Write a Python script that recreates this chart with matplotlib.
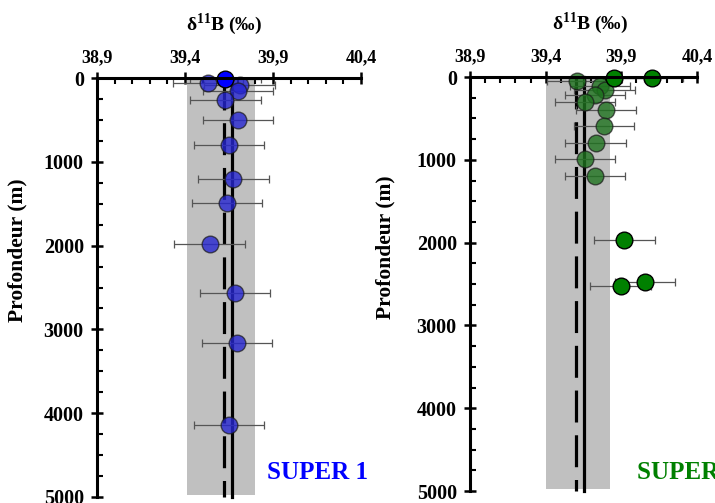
import numpy as np
import matplotlib
matplotlib.use('Agg')
import matplotlib.pyplot as plt
from matplotlib.ticker import FixedLocator, MultipleLocator, FuncFormatter

plt.rcParams['font.family'] = ['Liberation Serif', 'DejaVu Serif']
plt.rcParams['font.weight'] = 'bold'
plt.rcParams['mathtext.fontset'] = 'custom'
plt.rcParams['mathtext.rm'] = 'Liberation Serif:bold'
plt.rcParams['mathtext.bf'] = 'Liberation Serif:bold'

# SUPER 1 : d11B (permil) vs depth (m)
s1_faded_d11b = [39.53, 39.71, 39.70, 39.63, 39.70, 39.65, 39.675, 39.64, 39.54, 39.685, 39.695, 39.65]
s1_faded_depth = [55, 85, 150, 260, 500, 800, 1205, 1495, 1985, 2570, 3160, 4135]
s1_solid_d11b = [39.63]
s1_solid_depth = [10]
s1_err = 0.2
s1_band = (39.41, 39.80)
s1_mean = 39.665
s1_median = 39.62

# SUPER 2
s2_faded_d11b = [39.61, 39.76, 39.79, 39.725, 39.66, 39.80, 39.785, 39.73, 39.66, 39.725]
s2_faded_depth = [48, 110, 155, 215, 300, 400, 590, 795, 995, 1190]
s2_solid_d11b = [39.85, 40.105, 39.92, 40.055, 39.895]
s2_solid_depth = [15, 15, 1970, 2470, 2525]
s2_err = 0.2
s2_band = (39.40, 39.825)
s2_mean = 39.65
s2_median = 39.60

xticks = [38.9, 39.4, 39.9, 40.4]
depth_max = 5000

W, H = 715, 503
fig = plt.figure(figsize=(W / 100, H / 100), dpi=100)


def panel(rect, faded_x, faded_y, solid_x, solid_y, err, band, mean, median,
          color, faded_color, name, name_xy, ylab_x, xlab_x):
    ax = fig.add_axes(rect)
    ax.set_facecolor('none')
    ax.set_xlim(xticks[0], xticks[-1])
    ax.set_ylim(depth_max, 0)

    ax.fill_betweenx([0, 4975], band[0], band[1], color='#c0c0c0', lw=0, zorder=0)
    ax.plot([median, median], [0, depth_max], color='black', lw=2.3,
            dashes=(10, 4), zorder=2, clip_on=False)
    ax.plot([mean, mean], [0, depth_max], color='black', lw=2.3, zorder=2, clip_on=False)

    ax.errorbar(faded_x + solid_x, faded_y + solid_y, xerr=err, fmt='none',
                ecolor='#555555', elinewidth=0.9, capsize=3, capthick=0.9, zorder=3)
    ax.plot(faded_x, faded_y, 'o', ms=12, mfc=faded_color, mec=(0.1, 0.1, 0.1, 0.7),
            mew=1.0, zorder=4, clip_on=False)
    ax.plot(solid_x, solid_y, 'o', ms=12, mfc=color, mec='black',
            mew=1.0, zorder=5, clip_on=False)

    for s in ['right', 'bottom']:
        ax.spines[s].set_visible(False)
    ax.spines['left'].set_linewidth(2.2)
    ax.spines['top'].set_linewidth(2.2)
    ax.spines['top'].set_zorder(6)

    ax.xaxis.tick_top()
    ax.xaxis.set_label_position('top')
    ax.xaxis.set_major_locator(FixedLocator(xticks))
    ax.xaxis.set_minor_locator(MultipleLocator(0.1))
    ax.xaxis.set_major_formatter(FuncFormatter(lambda v, p: f"{v:.1f}".replace('.', ',')))
    ax.yaxis.set_major_locator(MultipleLocator(1000))
    ax.yaxis.set_minor_locator(MultipleLocator(250))
    ax.tick_params(axis='both', which='major', direction='inout', length=9, width=1.8)
    ax.tick_params(axis='both', which='minor', direction='in', length=4, width=1.5)
    ax.tick_params(axis='x', which='major', labelsize=13, pad=4)
    ax.tick_params(axis='y', which='major', labelsize=14.5, pad=5)
    for lab in ax.get_xticklabels() + ax.get_yticklabels():
        lab.set_fontweight('bold')

    ax.set_ylabel('Profondeur (m)', fontsize=15.5, fontweight='bold')
    ax.yaxis.set_label_coords(ylab_x, 0.59)
    ax.set_xlabel(r'δ$^{\mathbf{11}}$B (‰)', fontsize=14, fontweight='bold')
    ax.xaxis.set_label_coords(xlab_x, 1.115)

    fig.text(name_xy[0], name_xy[1], name, color=color, fontsize=18,
             fontweight='bold', va='baseline', ha='left')
    return ax


panel([97 / W, 1 - 497 / H, (361 - 97) / W, (497 - 78) / H],
      s1_faded_d11b, s1_faded_depth, s1_solid_d11b, s1_solid_depth, s1_err,
      s1_band, s1_mean, s1_median, '#0000ff', (0.15, 0.15, 0.82, 0.8),
      'SUPER 1', (267 / W, 1 - 479 / H), -0.265, 0.48)

panel([470 / W, 1 - 491 / H, (697 - 470) / W, (491 - 77) / H],
      s2_faded_d11b, s2_faded_depth, s2_solid_d11b, s2_solid_depth, s2_err,
      s2_band, s2_mean, s2_median, '#008000', (0.12, 0.45, 0.12, 0.8),
      'SUPER 2', (637 / W, 1 - 479 / H), -0.33, 0.53)

fig.savefig('out.png', dpi=100)
